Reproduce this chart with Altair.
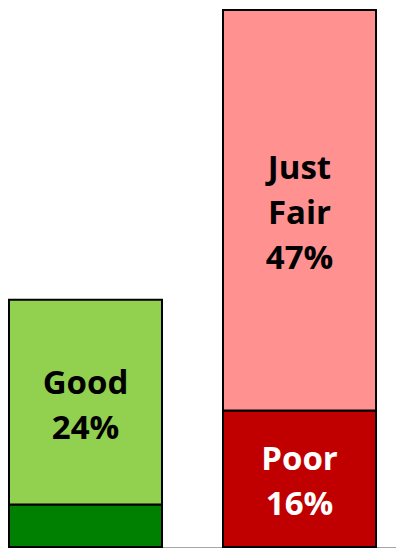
import altair as alt
import pandas as pd

groups = ["Group 1", "Group 1", "Group 2", "Group 2"]
segments = ["Excellent", "Good", "Poor", "Just Fair"]
values = [5, 24, 16, 47]
orders = [1, 2, 1, 2]
labels = ["", "Good\n24%", "Poor\n16%", "Just\nFair\n47%"]
text_colors = ["white", "black", "white", "black"]

seg_domain = ["Excellent", "Good", "Poor", "Just Fair"]
seg_colors = ["#008000", "#92D050", "#C00000", "#FF9191"]

df = pd.DataFrame({
    "group": groups,
    "segment": segments,
    "value": values,
    "order": orders,
    "label": labels,
    "tcolor": text_colors,
})

base = alt.Chart(df).transform_stack(
    stack="value",
    groupby=["group"],
    as_=["y0", "y1"],
    sort=[alt.SortField("order", order="ascending")],
).transform_calculate(
    mid="(datum.y0 + datum.y1) / 2",
    nlines="length(split(datum.label, '\\n'))",
)

xenc = alt.X(
    "group:N",
    title=None,
    scale=alt.Scale(paddingInner=0.285, paddingOuter=0.0467, align=0),
    axis=alt.Axis(labels=False, ticks=False, domain=True, domainColor="#A6A6A6",
                  domainWidth=1, grid=False),
)
yscale = alt.Scale(domain=[0, 63], nice=False, zero=True)

bars = base.mark_bar(stroke="black", strokeWidth=2).encode(
    x=xenc,
    y=alt.Y("y0:Q", scale=yscale, axis=None),
    y2="y1:Q",
    color=alt.Color("segment:N", scale=alt.Scale(domain=seg_domain, range=seg_colors), legend=None),
)

LINE_H = 45


def text_layer(n):
    return base.transform_filter(f"datum.label != '' && datum.nlines == {n}").mark_text(
        font="Open Sans", fontWeight="bold", fontSize=33, lineBreak="\n",
        lineHeight=LINE_H, baseline="middle", align="center",
        dy=-(n - 1) * LINE_H / 2 + 4,
    ).encode(
        x=alt.X("group:N", title=None),
        y=alt.Y("mid:Q", scale=yscale),
        text="label:N",
        color=alt.Color("tcolor:N", scale=None),
    )


chart = alt.layer(bars, text_layer(2), text_layer(3)).properties(
    width=387, height=537,
    autosize=alt.AutoSizeParams(type="none"),
    padding={"top": 2, "left": 1, "right": 0, "bottom": 1},
).configure_view(stroke=None)

chart.save("out.html", embed_options={"renderer": "svg", "actions": False})
